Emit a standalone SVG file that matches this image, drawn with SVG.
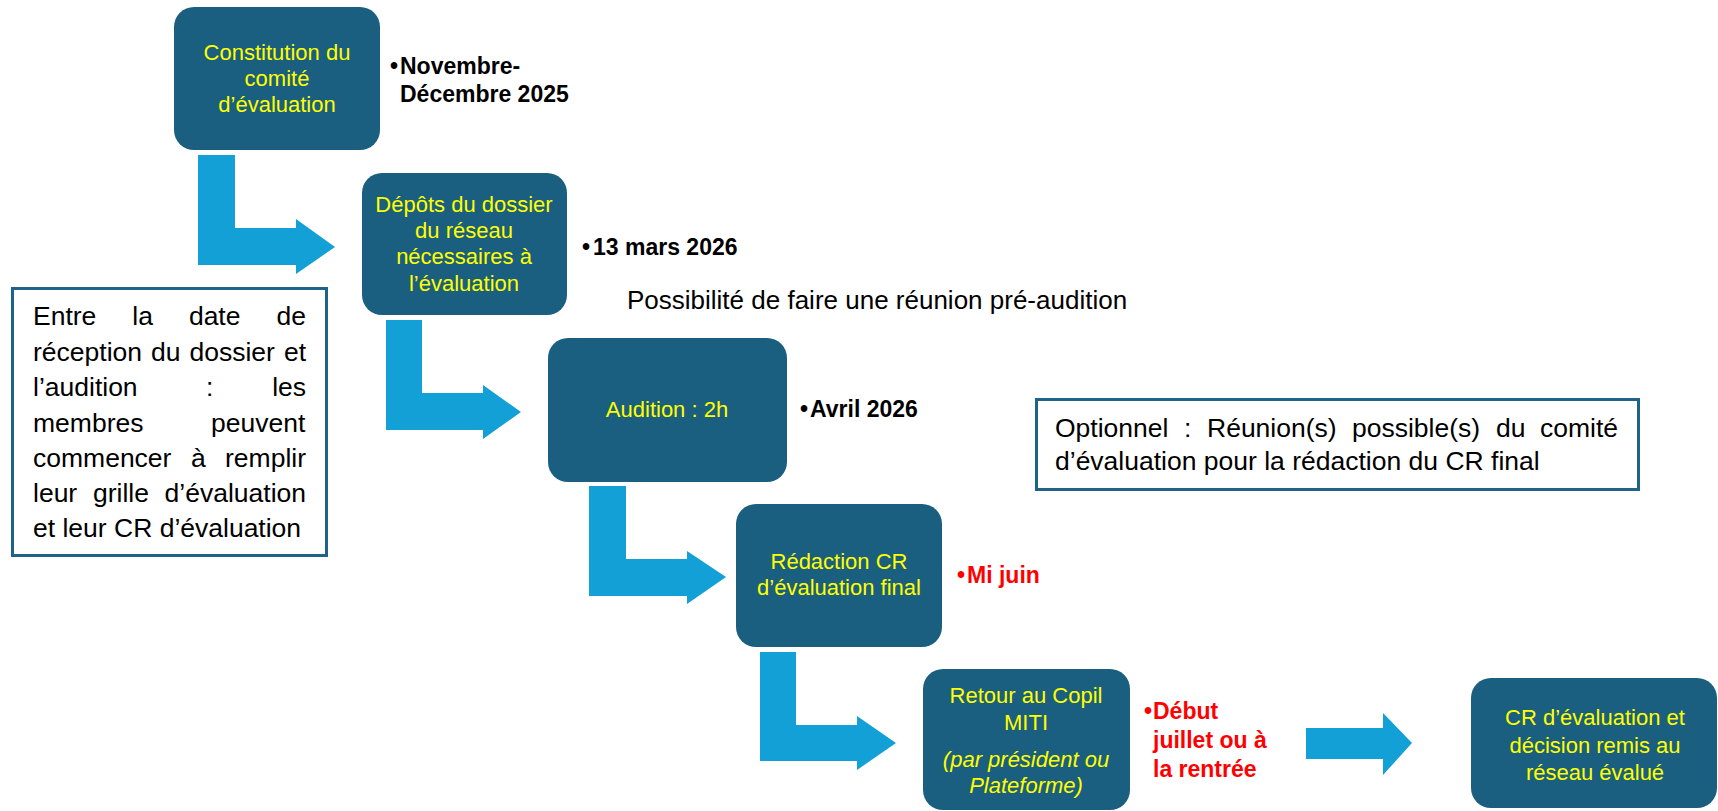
<svg xmlns="http://www.w3.org/2000/svg" width="1718" height="811" viewBox="0 0 1718 811">
<style>
.node{fill:#1a5e80;}
.nt{font-family:"Liberation Sans",Arial,sans-serif;font-size:22px;fill:#ffff00;text-anchor:middle;}
.it{font-style:italic;}
.date{font-family:"Liberation Sans",Arial,sans-serif;font-size:23px;font-weight:bold;fill:#000;}
.red{fill:#ff0000;}
.note{fill:#fff;stroke:#1f6389;stroke-width:3;}
.nb{font-family:"Liberation Sans",Arial,sans-serif;font-size:26.5px;fill:#000;}
.arrow{fill:#12a0d7;}
</style>
<rect width="1718" height="811" fill="#fff"/>
<g id="connectors">
<polygon class="arrow" points="198,155 235,155 235,228 296,228 296,219 335,247 296,274 296,265 198,265"/>
<polygon class="arrow" points="386,320 422,320 422,393 483,393 483,385 521,412 483,439 483,430 386,430"/>
<polygon class="arrow" points="589,486 626,486 626,559 687,559 687,551 726,577 687,604 687,596 589,596"/>
<polygon class="arrow" points="760,652 796,652 796,725 857,725 857,716 896,743 857,770 857,761 760,761"/>
<polygon class="arrow" points="1306,728 1383,728 1383,713 1412,743 1383,775 1383,759 1306,759"/>
</g>
<g id="n1">
<rect class="node" x="174" y="7" width="206" height="143" rx="20"/>
<text class="nt"><tspan x="277" y="60">Constitution du</tspan><tspan x="277" y="86">comité</tspan><tspan x="277" y="112">d’évaluation</tspan></text>
</g>
<g id="d1">
<text class="date"><tspan x="390" y="74">•</tspan><tspan x="400" y="74">Novembre-</tspan><tspan x="400" y="102">Décembre 2025</tspan></text>
</g>
<g id="n2">
<rect class="node" x="362" y="173" width="205" height="142" rx="20"/>
<text class="nt"><tspan x="464" y="212">Dépôts du dossier</tspan><tspan x="464" y="238">du réseau</tspan><tspan x="464" y="264">nécessaires à</tspan><tspan x="464" y="291">l’évaluation</tspan></text>
</g>
<g id="d2">
<text class="date"><tspan x="582" y="255">•</tspan><tspan x="593" y="255">13 mars 2026</tspan></text>
</g>
<g id="pre">
<text class="nb" x="627" y="309" style="font-size:26px">Possibilité de faire une réunion pré-audition</text>
</g>
<g id="note1">
<rect class="note" x="12.5" y="288.5" width="314" height="267"/>
<text class="nb">
<tspan x="33" y="325">Entre</tspan><tspan x="132.3" y="325">la</tspan><tspan x="188.9" y="325">date</tspan><tspan x="276.5" y="325">de</tspan>
<tspan x="33" y="361">réception</tspan><tspan x="151" y="361">du</tspan><tspan x="189.5" y="361">dossier</tspan><tspan x="283.9" y="361">et</tspan>
<tspan x="33" y="396">l’audition</tspan><tspan x="206" y="396">:</tspan><tspan x="272.2" y="396">les</tspan>
<tspan x="33" y="432">membres</tspan><tspan x="211" y="432">peuvent</tspan>
<tspan x="33" y="467">commencer</tspan><tspan x="190.9" y="467">à</tspan><tspan x="225" y="467">remplir</tspan>
<tspan x="33" y="502">leur</tspan><tspan x="93" y="502">grille</tspan><tspan x="164.6" y="502">d’évaluation</tspan>
<tspan x="33" y="537">et leur CR d’évaluation</tspan>
</text>
</g>
<g id="n3">
<rect class="node" x="548" y="338" width="239" height="144" rx="20"/>
<text class="nt" x="667" y="417">Audition : 2h</text>
</g>
<g id="d3">
<text class="date"><tspan x="800" y="417">•</tspan><tspan x="810" y="417">Avril 2026</tspan></text>
</g>
<g id="note2">
<rect class="note" x="1036.5" y="399.5" width="602" height="90"/>
<text class="nb">
<tspan x="1055" y="437">Optionnel</tspan><tspan x="1184" y="437">:</tspan><tspan x="1207" y="437">Réunion(s)</tspan><tspan x="1352" y="437">possible(s)</tspan><tspan x="1496" y="437">du</tspan><tspan x="1540" y="437">comité</tspan>
<tspan x="1055" y="470">d’évaluation pour la rédaction du CR final</tspan>
</text>
</g>
<g id="n4">
<rect class="node" x="736" y="504" width="206" height="143" rx="20"/>
<text class="nt"><tspan x="839" y="569">Rédaction CR</tspan><tspan x="839" y="595">d’évaluation final</tspan></text>
</g>
<g id="d4">
<text class="date red"><tspan x="957" y="583">•</tspan><tspan x="967" y="583">Mi juin</tspan></text>
</g>
<g id="n5">
<rect class="node" x="923" y="669" width="207" height="141" rx="20"/>
<text class="nt"><tspan x="1026" y="703">Retour au Copil</tspan><tspan x="1026" y="730">MITI</tspan><tspan class="it" x="1026" y="767">(par président ou</tspan><tspan class="it" x="1026" y="793">Plateforme)</tspan></text>
</g>
<g id="d5">
<text class="date red"><tspan x="1144" y="719">•</tspan><tspan x="1153" y="719">Début</tspan><tspan x="1153" y="748">juillet ou à</tspan><tspan x="1153" y="777">la rentrée</tspan></text>
</g>
<g id="n6">
<rect class="node" x="1471" y="678" width="246" height="130" rx="20"/>
<text class="nt"><tspan x="1595" y="725">CR d’évaluation et</tspan><tspan x="1595" y="753">décision remis au</tspan><tspan x="1595" y="780">réseau évalué</tspan></text>
</g>
</svg>
